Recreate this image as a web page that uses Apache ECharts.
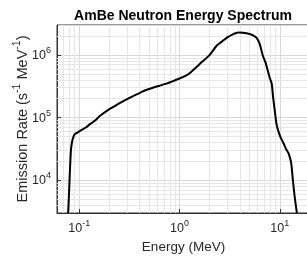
<!DOCTYPE html>
<html>
<head>
<meta charset="utf-8">
<script src="https://cdn.jsdelivr.net/npm/echarts@6/dist/echarts.min.js"></script>
<style>
  html, body { margin: 0; padding: 0; background: #fff; }
  #chart { width: 307px; height: 257px; }
</style>
</head>
<body>
<div id="chart"></div>
<script>
// AmBe spectrum (energy in MeV, rate in s^-1 MeV^-1)
const energy = [
  0.0775, 0.079, 0.080, 0.0815, 0.0826, 0.0845, 0.087, 0.090, 0.095, 0.100,
  0.108, 0.117, 0.130, 0.147, 0.158, 0.200, 0.250, 0.290, 0.340, 0.400,
  0.450, 0.550, 0.630, 0.740, 0.850, 1.00, 1.17, 1.26, 1.58, 2.00,
  2.34, 2.60, 3.00, 3.40, 3.85, 4.30, 5.00, 5.50, 5.90, 6.30,
  6.80, 7.20, 7.90, 8.30, 8.55, 8.90, 9.25, 9.60, 10.2, 10.8,
  11.6, 12.2, 12.8, 13.1, 13.5, 14.1, 14.8
];
const rate = [
  3000, 6000, 1.0e4, 2.0e4, 3.0e4, 4.0e4, 4.8e4, 5.4e4, 5.7e4, 6.0e4,
  6.5e4, 7.0e4, 8.0e4, 9.2e4, 1.04e5, 1.36e5, 1.68e5, 1.92e5, 2.18e5, 2.46e5,
  2.7e5, 3.02e5, 3.22e5, 3.48e5, 3.78e5, 4.2e5, 4.7e5, 5.1e5, 7.1e5, 1.0e6,
  1.4e6, 1.6e6, 1.9e6, 2.12e6, 2.27e6, 2.25e6, 2.15e6, 2.02e6, 1.85e6, 1.5e6,
  9.5e5, 7.6e5, 4.4e5, 3.5e5, 2.2e5, 1.3e5, 8.0e4, 6.3e4, 4.8e4, 4.0e4,
  3.1e4, 2.7e4, 2.1e4, 1.7e4, 1.0e4, 5.3e3, 3.0e3
];

// axis limits and tick values
const xRange = [0.06, 20];
const yRange = [3000, 3e6];
const xMajor = [0.1, 1, 10];
const yMajor = [1e4, 1e5, 1e6];
const xMinor = [0.07, 0.08, 0.09, 0.2, 0.3, 0.4, 0.5, 0.6, 0.7, 0.8, 0.9,
  2, 3, 4, 5, 6, 7, 8, 9];
const yMinor = [4000, 5000, 6000, 7000, 8000, 9000,
  2e4, 3e4, 4e4, 5e4, 6e4, 7e4, 8e4, 9e4,
  2e5, 3e5, 4e5, 5e5, 6e5, 7e5, 8e5, 9e5, 2e6];

const FONT = "Liberation Sans";
const TXT = "#262626";

function powLabel(v, majors) {
  const hit = majors.find(m => Math.abs(m - v) / m < 1e-6);
  if (!hit) return "";
  return "{b|10}{s|" + Math.round(Math.log10(hit)) + "}";
}

const tickRich = {
  b: { fontFamily: FONT, fontSize: 12.5, color: TXT, verticalAlign: "bottom", lineHeight: 14 },
  s: { fontFamily: FONT, fontSize: 9, color: TXT, verticalAlign: "bottom", lineHeight: 9, padding: [0, 0, 7, 0] }
};

const chart = echarts.init(document.getElementById("chart"), null, { renderer: "canvas" });

const option = {
  animation: false,
  backgroundColor: "#fff",
  title: {
    text: "AmBe Neutron Energy Spectrum",
    left: 183,
    textAlign: "center",
    top: 9,
    padding: 0,
    textStyle: { fontFamily: FONT, fontSize: 14, fontWeight: "bold", color: "#000" }
  },
  grid: {
    left: 57, top: 25, width: 253, height: 188,
    outerBoundsMode: "none",
    show: true, borderColor: "#333", borderWidth: 1
  },
  xAxis: {
    type: "log",
    min: xRange[0], max: xRange[1],
    name: "Energy (MeV)",
    nameLocation: "middle",
    nameGap: 27,
    nameMoveOverlap: false,
    nameTextStyle: { fontFamily: FONT, fontSize: 13.5, color: TXT },
    axisLine: { show: true, lineStyle: { color: "#333", width: 1 } },
    axisTick: { show: true, inside: true, length: 4, lineStyle: { color: "#333" } },
    axisLabel: {
      margin: 8, showMinLabel: false, showMaxLabel: false,
      formatter: v => powLabel(v, xMajor), rich: tickRich
    },
    splitLine: { show: true, lineStyle: { color: "#d8d8d8", width: 1 } }
  },
  yAxis: {
    type: "log",
    min: yRange[0], max: yRange[1],
    name: "{n|Emission Rate (s}{u|-1}{n| MeV}{u|-1}{n|)}",
    nameLocation: "middle",
    nameGap: 27,
    nameMoveOverlap: false,
    nameTextStyle: {
      rich: {
        n: { fontFamily: FONT, fontSize: 14.5, color: TXT, verticalAlign: "bottom", lineHeight: 16 },
        u: { fontFamily: FONT, fontSize: 10.5, color: TXT, verticalAlign: "bottom", lineHeight: 11, padding: [0, 0, 7, 0] }
      }
    },
    axisLine: { show: true, lineStyle: { color: "#333", width: 1 } },
    axisTick: { show: true, inside: true, length: 4, lineStyle: { color: "#333" } },
    axisLabel: {
      margin: 6, showMinLabel: false, showMaxLabel: false,
      formatter: v => powLabel(v, yMajor), rich: tickRich
    },
    splitLine: { show: true, lineStyle: { color: "#d8d8d8", width: 1 } }
  },
  series: [
    {
      // minor grid, drawn under the curve
      name: "minor",
      type: "line",
      data: [],
      z: 1,
      silent: true,
      markLine: {
        silent: true,
        symbol: "none",
        label: { show: false },
        lineStyle: { color: "#e6e6e6", width: 1, type: "solid" },
        emphasis: { disabled: true },
        data: xMinor.map(v => ({ xAxis: v })).concat(yMinor.map(v => ({ yAxis: v })))
      }
    },
    {
      name: "AmBe",
      type: "line",
      z: 5,
      data: energy.map((e, i) => [e, rate[i]]),
      showSymbol: false,
      symbol: "none",
      smooth: 0.2,
      lineStyle: { color: "#000", width: 2 },
      clip: true
    }
  ]
};

chart.setOption(option);
</script>
</body>
</html>
